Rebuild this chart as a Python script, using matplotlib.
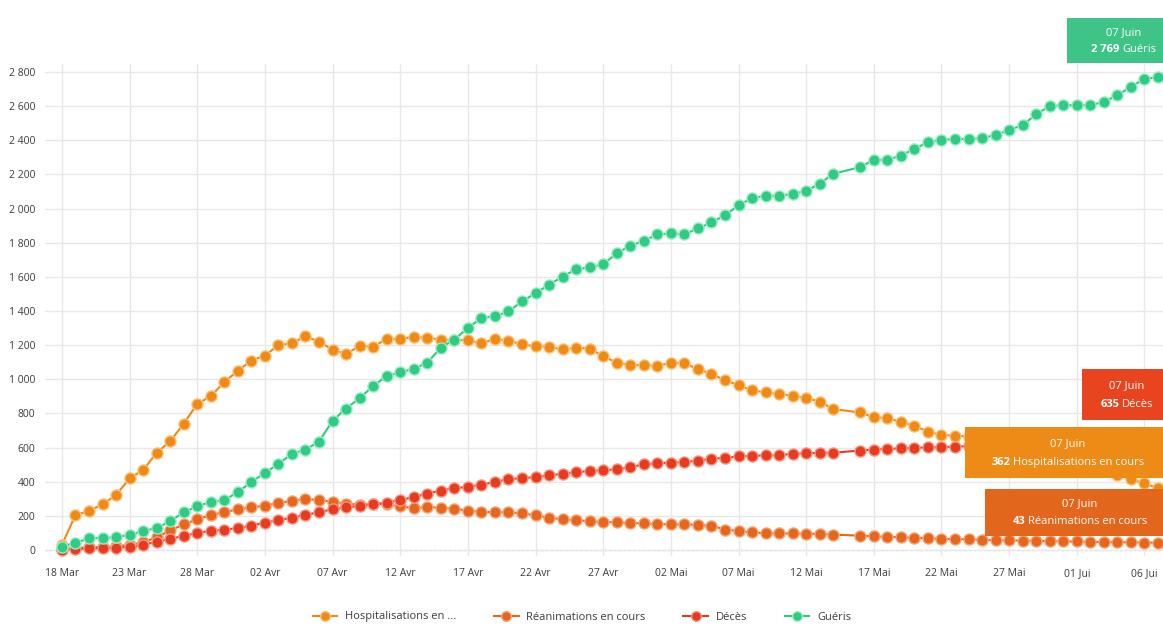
import matplotlib
matplotlib.use('Agg')
import matplotlib.pyplot as plt
from matplotlib.lines import Line2D
from matplotlib.patches import Rectangle
import matplotlib.ticker as mticker
import pandas as pd

plt.rcParams['font.family'] = ['Open Sans', 'DejaVu Sans']

W, H = 1163, 630

# one day (15 May) has no data point
dates = [d for d in pd.date_range('2020-03-18', '2020-06-07') if d != pd.Timestamp('2020-05-15')]

hospitalisations = [
    30, 205, 229, 268, 322, 420, 469, 569, 637, 740,
    856, 901, 984, 1050, 1110, 1139, 1200, 1211, 1253, 1220,
    1174, 1147, 1197, 1189, 1238, 1235, 1249, 1243, 1233, 1230,
    1229, 1210, 1237, 1227, 1204, 1194, 1190, 1175, 1185, 1180,
    1136, 1097, 1085, 1082, 1080, 1095, 1097, 1058, 1033, 994,
    967, 935, 925, 912, 905, 890, 870, 825,
    806, 777, 775, 748, 728, 693, 674, 670, 665, 650, 630,
    610, 590, 565, 545, 525, 505, 485, 462, 440, 415, 390, 362]

reanimations = [
    8, 12, 15, 18, 22, 30, 45, 75, 115, 150,
    180, 205, 222, 238, 250, 260, 275, 288, 300, 292,
    282, 272, 266, 272, 268, 255, 247, 252, 247, 243,
    230, 225, 220, 223, 214, 204, 188, 181, 175, 169,
    165, 162, 158, 156, 152, 150, 150, 148, 142, 120,
    111, 103, 99, 97, 97, 95, 95, 90,
    84, 80, 78, 74, 72, 68, 66, 64, 63, 60, 58,
    57, 55, 54, 52, 50, 50, 48, 47, 46, 45, 44, 43]

deces = [
    3, 6, 9, 11, 14, 18, 30, 48, 65, 83,
    100, 112, 120, 128, 142, 160, 175, 190, 205, 222,
    238, 250, 258, 268, 278, 292, 310, 330, 348, 362,
    370, 383, 398, 415, 421, 427, 437, 447, 456, 463,
    468, 472, 486, 501, 509, 512, 515, 524, 534, 540,
    548, 552, 554, 556, 563, 567, 569, 570,
    583, 588, 592, 596, 597, 602, 603, 606, 608, 612, 612,
    615, 617, 620, 622, 624, 625, 627, 628, 630, 632, 634, 635]

gueris = [
    20, 42, 68, 72, 74, 90, 110, 130, 168, 222,
    255, 282, 291, 340, 398, 452, 505, 563, 588, 635,
    757, 829, 889, 961, 1019, 1040, 1062, 1097, 1185, 1233,
    1301, 1359, 1369, 1398, 1456, 1505, 1554, 1602, 1645, 1655,
    1674, 1738, 1783, 1810, 1849, 1855, 1849, 1884, 1919, 1961,
    2019, 2062, 2074, 2076, 2085, 2103, 2146, 2204,
    2243, 2286, 2286, 2311, 2350, 2389, 2402, 2408, 2408, 2414, 2431,
    2460, 2489, 2553, 2600, 2606, 2606, 2606, 2625, 2664, 2713, 2761, 2769]

series_names = ['Hospitalisations en ...', 'Réanimations en cours', 'Décès', 'Guéris']
series_colors = ['#F08A12', '#E8651C', '#E83A1E', '#2ECC82']
halo_colors = ['#F9C27E', '#F4A87A', '#F49A86', '#9BEBC3']

tick_dates = pd.date_range('2020-03-18', '2020-06-06', freq='5D')
tick_labels = ['18 Mar', '23 Mar', '28 Mar', '02 Avr', '07 Avr', '12 Avr', '17 Avr', '22 Avr',
               '27 Avr', '02 Mai', '07 Mai', '12 Mai', '17 Mai', '22 Mai', '27 Mai', '01 Jui', '06 Jui']
y_ticks = list(range(0, 2801, 200))


def px(x):
    return x / W


def py(y):
    return 1 - y / H


fig = plt.figure(figsize=(W / 100, H / 100), dpi=100)
ax = fig.add_axes([px(45), py(556), px(1163) - px(45), py(63.5) - py(556)])

all_series = [hospitalisations, reanimations, deces, gueris]
for vals, col, halo in zip(all_series, series_colors, halo_colors):
    ax.plot(dates, vals, color=col, lw=1.5, marker='o', markersize=8,
            markerfacecolor=col, markeredgecolor=halo, markeredgewidth=1.0, zorder=3)

day = pd.Timedelta(days=1)
ax.set_xlim(dates[0] - 1.25 * day, dates[0] + 81.37 * day)
ax.set_ylim(-35, 2850)

ax.set_xticks(tick_dates)
ax.set_xticklabels(tick_labels)
ax.set_yticks(y_ticks)
ax.yaxis.set_major_formatter(mticker.FuncFormatter(lambda v, p: f'{int(v):,}'.replace(',', ' ')))
ax.tick_params(axis='both', length=0, labelsize=7.5, labelcolor='#3c3c3c')
ax.tick_params(axis='y', pad=7)
ax.tick_params(axis='x', pad=9)

ax.grid(True, color='#e8e8e8', lw=1.0, zorder=0)
ax.axhline(0, color='#d0d0d0', lw=1.0, ls=(0, (1.5, 2)), zorder=1)
for s in ax.spines.values():
    s.set_visible(False)

handles = [Line2D([0], [0], color=c, lw=1.5, marker='o', markersize=7,
                  markerfacecolor=c, markeredgecolor=h) for c, h in zip(series_colors, halo_colors)]
fig.legend(handles, series_names, loc='center', bbox_to_anchor=(px(582), py(617)), ncol=4,
           frameon=False, fontsize=8, handlelength=2.2, handletextpad=0.7, columnspacing=3.4,
           labelcolor='#3c3c3c')

renderer = fig.canvas.get_renderer()


def tooltip(x0, y0, y1, color, number, label, cx):
    fig.add_artist(Rectangle((px(x0), py(y1)), 1.5, py(y0) - py(y1), transform=fig.transFigure,
                             facecolor=color, edgecolor='none', zorder=10))
    fig.text(px(cx), py(y0 + (y1 - y0) * 0.32), '07 Juin', color='white', fontsize=8,
             ha='center', va='center', zorder=11)
    ty = py(y0 + (y1 - y0) * 0.7)
    t1 = fig.text(0, ty, number, color='white', fontsize=8, weight='bold', ha='left', va='center', zorder=11)
    t2 = fig.text(0, ty, label, color='white', fontsize=8, ha='left', va='center', zorder=11)
    w1 = t1.get_window_extent(renderer).width
    w2 = t2.get_window_extent(renderer).width
    start = cx - (w1 + w2 + 3) / 2
    t1.set_x(px(start))
    t2.set_x(px(start + w1 + 3))


def fmt(v):
    return f'{v:,}'.replace(',', ' ')


tooltip(1067, 18, 63, '#3DC486', fmt(gueris[-1]), 'Guéris', 1124)
tooltip(1082, 369, 420, '#E8441F', fmt(deces[-1]), 'Décès', 1127)
tooltip(965, 427, 478, '#EE8A16', fmt(hospitalisations[-1]), 'Hospitalisations en cours', 1068)
tooltip(985, 489, 536, '#E2661C', fmt(reanimations[-1]), 'Réanimations en cours', 1080)

fig.savefig('out.png', dpi=100, facecolor='white')
